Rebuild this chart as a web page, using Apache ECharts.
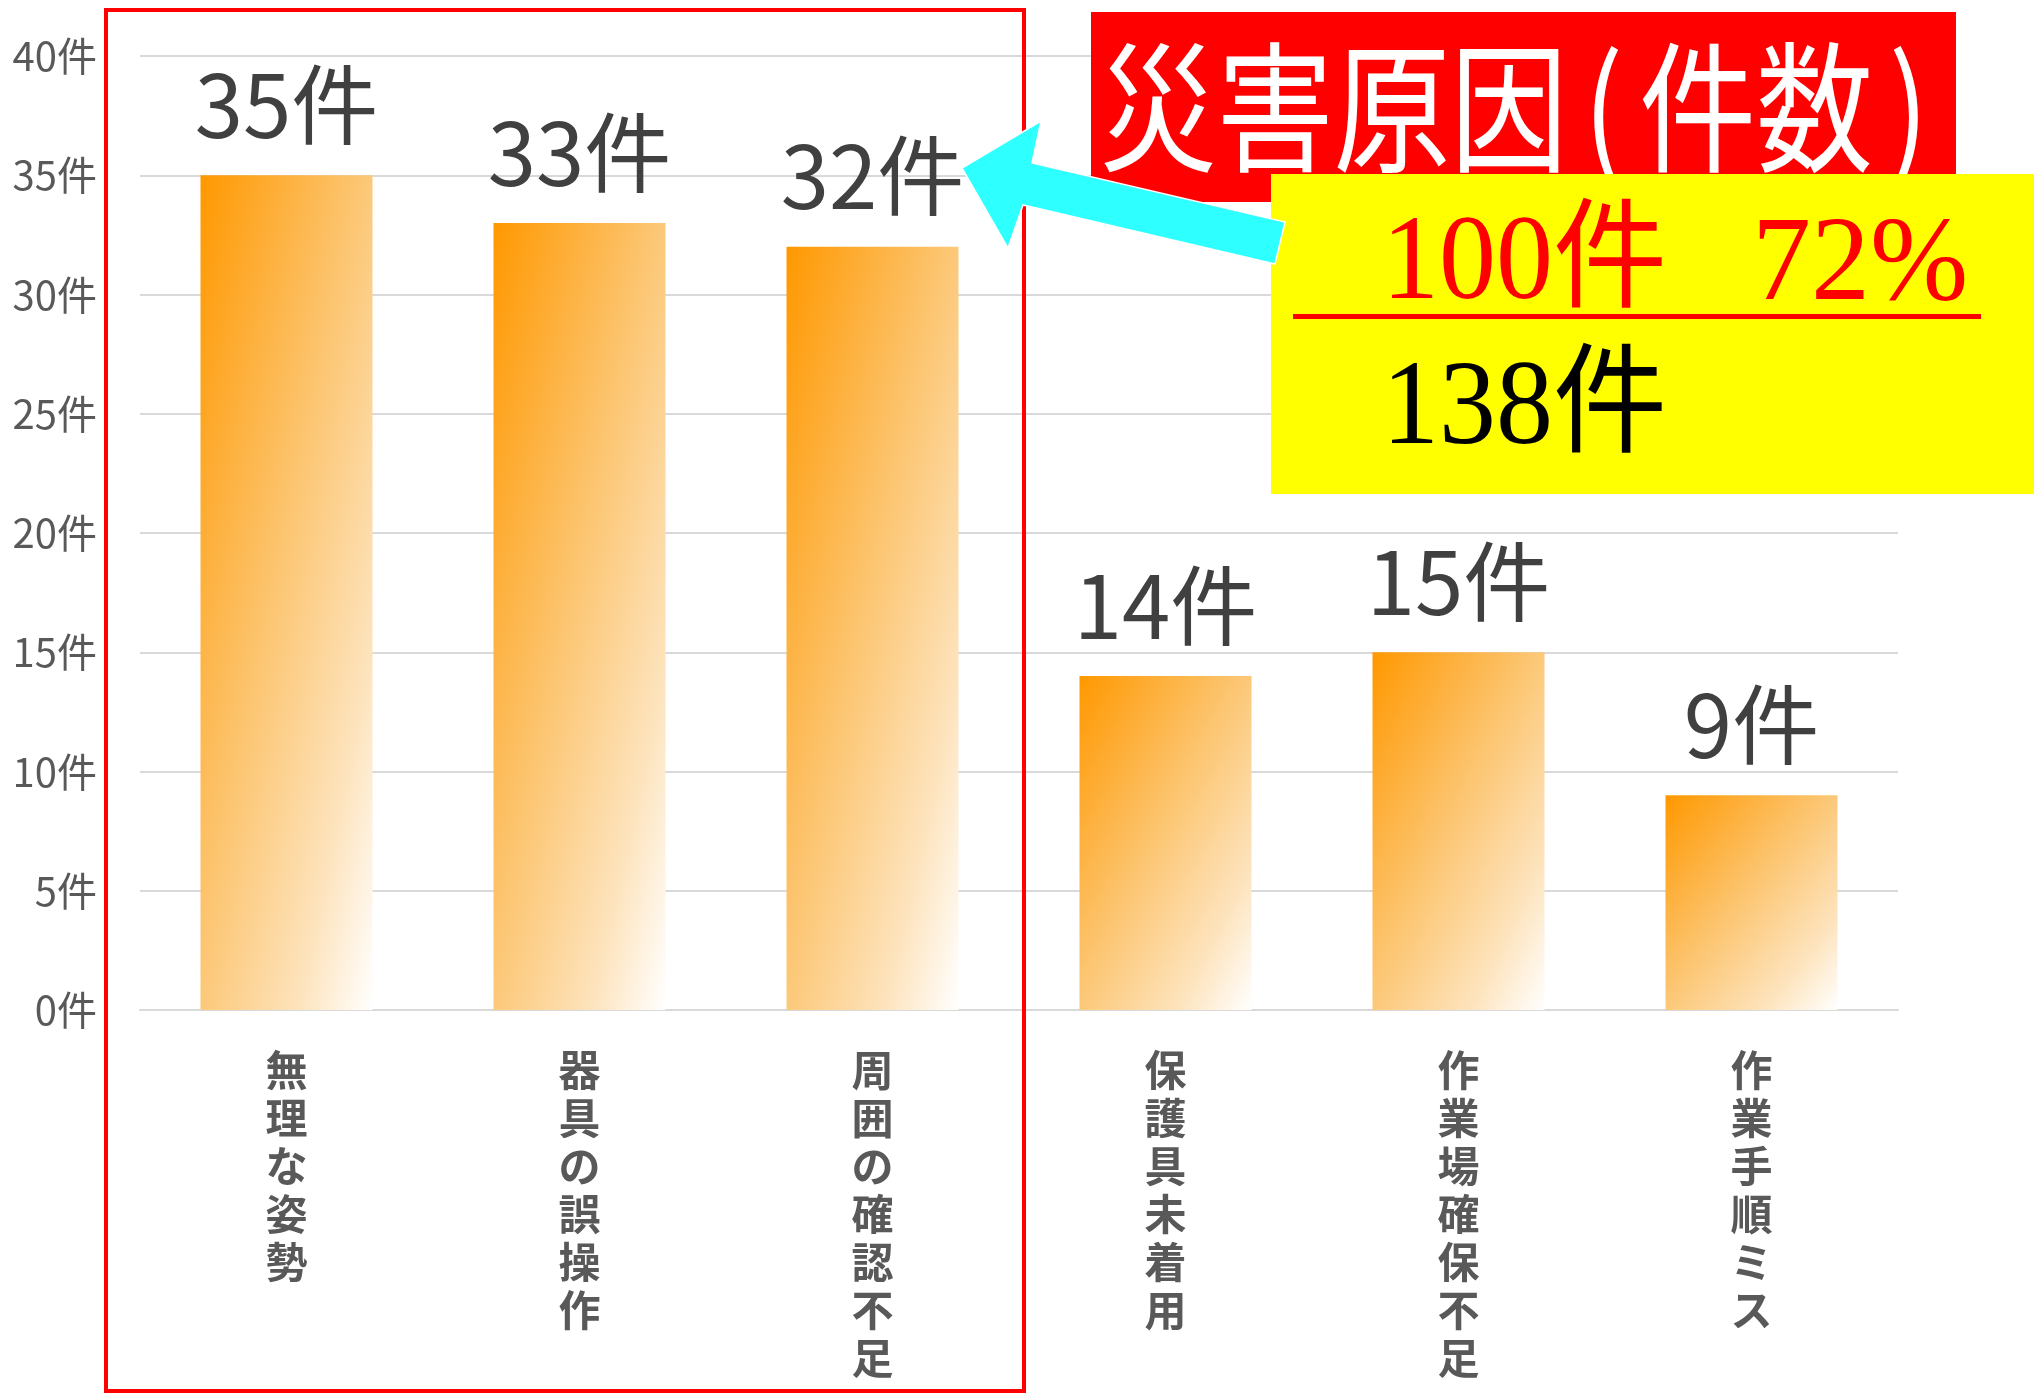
<!DOCTYPE html>
<html>
<head>
<meta charset="utf-8">
<script src="https://cdn.jsdelivr.net/npm/echarts@6/dist/echarts.min.js"></script>
<style>
  html, body { margin: 0; padding: 0; background: #ffffff; }
  #chart { width: 2034px; height: 1394px; }
</style>
</head>
<body>
<div id="chart"></div>
<script>
// Accident causes and their counts
const categories = ['無理な姿勢', '器具の誤操作', '周囲の確認不足', '保護具未着用', '作業場確保不足', '作業手順ミス'];
const counts = [35, 33, 32, 14, 15, 9];

// Value axis ticks
const yMin = 0;
const yMax = 40;
const yStep = 5;
const unit = '件';

// Callout texts
const titleParts = ['災害原因', '(', '件数', ')'];
const topThreeText = '100件';
const shareText = '72%';
const totalText = '138件';

const FONT = '"Noto Sans CJK JP", "Noto Sans", sans-serif';
const SERIF = '"Liberation Serif", "Noto Sans CJK JP", serif';
const BAR_W = 172;

// Diagonal fade whose iso-lines run corner to corner of each bar
function barGradient(w, h) {
  const d = h * h + w * w;
  return new echarts.graphic.LinearGradient(0, 0, 2 * h * h / d, 2 * w * w / d, [
    { offset: 0, color: '#FF9800' },
    { offset: 0.45, color: '#FCC46E' },
    { offset: 0.78, color: '#FDE3BC' },
    { offset: 1, color: '#FFFFFF' }
  ]);
}

function textEl(text, x, y, font, fill, align, z, scaleY, rich) {
  const style = {
    text: text, font: font, fill: fill,
    align: align, verticalAlign: 'middle',
    textAlign: align, textVerticalAlign: 'middle'
  };
  if (rich) style.rich = rich;
  return { type: 'text', x: x, y: y, z: z, scaleY: scaleY || 1, style: style };
}

const TITLE_FONT_SIZE = 117;
const titleRich = {
  p: { fontSize: TITLE_FONT_SIZE, fontFamily: FONT, fill: '#FFFFFF', color: '#FFFFFF', padding: [0, 16, 0, 16] }
};
const titleText = titleParts[0] + '{p|' + titleParts[1] + '}' + titleParts[2] + '{p|' + titleParts[3] + '}';

const chart = echarts.init(document.getElementById('chart'), null, { renderer: 'canvas' });

function buildOption(colors) {
  return {
    animation: false,
    backgroundColor: '#ffffff',
    grid: { left: 140, right: 136, top: 56, bottom: 384 },
    xAxis: {
      type: 'category',
      data: categories,
      axisTick: { show: false },
      axisLine: { lineStyle: { color: '#D9D9D9', width: 2 } },
      axisLabel: {
        interval: 0, margin: 36, color: '#595959',
        fontFamily: FONT, fontSize: 42, fontWeight: 'bold', lineHeight: 48,
        verticalAlign: 'top',
        formatter: v => v.split('').join('\n')
      }
    },
    yAxis: {
      type: 'value', min: yMin, max: yMax, interval: yStep,
      axisLine: { show: false },
      axisTick: { show: false },
      splitLine: { lineStyle: { color: '#D9D9D9', width: 2 } },
      axisLabel: {
        margin: 43, color: '#595959', fontFamily: FONT, fontSize: 40,
        formatter: v => v + unit
      }
    },
    series: [{
      type: 'bar',
      barWidth: BAR_W,
      data: counts.map((v, i) => ({ value: v, itemStyle: { color: colors ? colors[i] : '#FDBE63' } })),
      label: {
        show: true, position: 'top', distance: 27,
        color: '#404040', fontFamily: FONT, fontSize: 87,
        formatter: p => p.value + unit
      }
    }],
    graphic: [
      // frame around the three leading causes
      { type: 'rect', z: 50, shape: { x: 106, y: 10, width: 918, height: 1381 },
        style: { fill: 'none', stroke: '#FF0000', lineWidth: 4 } },
      // title plate
      { type: 'rect', z: 60, shape: { x: 1091, y: 12, width: 865, height: 190 },
        style: { fill: '#FF0000' } },
      textEl(titleText, 1522, 108, 'normal ' + TITLE_FONT_SIZE + 'px ' + FONT, '#FFFFFF', 'center', 61, 1.2, titleRich),
      // summary box
      { type: 'rect', z: 62, shape: { x: 1271, y: 174, width: 763, height: 320 },
        style: { fill: '#FFFF00' } },
      textEl(topThreeText, 1382, 267, 'normal 114px ' + SERIF, '#FF0000', 'left', 63, 1.05),
      textEl(shareText, 1752, 267, 'normal 118px ' + SERIF, '#FF0000', 'left', 63, 1.02),
      { type: 'rect', z: 63, shape: { x: 1293, y: 314, width: 688, height: 5 },
        style: { fill: '#FF0000' } },
      textEl(totalText, 1382, 412, 'normal 114px ' + SERIF, '#000000', 'left', 63, 1.05),
      // pointer arrow
      { type: 'polygon', z: 70,
        shape: { points: [[962, 168], [1041, 121], [1032, 163], [1285, 222], [1275, 264], [1023, 205], [1008, 248]] },
        style: { fill: '#2EFFFF', stroke: '#FFFFFF', lineWidth: 1.5 } }
    ]
  };
}

chart.setOption(buildOption(null));
const base = chart.convertToPixel({ yAxisIndex: 0 }, 0);
const colors = counts.map(v => barGradient(BAR_W, base - chart.convertToPixel({ yAxisIndex: 0 }, v)));
chart.setOption(buildOption(colors));
</script>
</body>
</html>
